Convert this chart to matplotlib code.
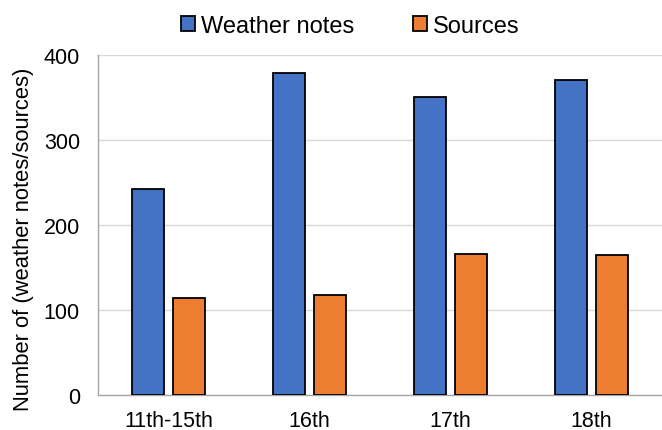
import numpy as np
import matplotlib.pyplot as plt

plt.rcParams['font.family'] = ['Liberation Sans', 'DejaVu Sans']

categories = ['11th-15th', '16th', '17th', '18th']
weather_notes = [243, 379, 351, 371]
sources = [114, 118, 166, 165]

blue = '#4472C4'
orange = '#ED7D31'

fig = plt.figure(figsize=(6.62, 4.31), dpi=100)
ax = fig.add_axes([0.148, 0.081, 0.852, 0.789])

x = np.arange(len(categories))
w = 0.227
ax.bar(x - 0.142, weather_notes, w, color=blue, edgecolor='black', linewidth=1.3,
       label='Weather notes', zorder=3)
ax.bar(x + 0.145, sources, w, color=orange, edgecolor='black', linewidth=1.3,
       label='Sources', zorder=3)

ax.set_xlim(-0.5, 3.5)
ax.set_ylim(0, 400)
ax.set_yticks([0, 100, 200, 300, 400])
ax.set_xticks(x)
ax.set_xticklabels(categories)
ax.grid(axis='y', color='#D9D9D9', linewidth=1, zorder=0)
ax.tick_params(length=0, labelsize=15.5, colors='black')
ax.tick_params(axis='y', pad=13)
ax.tick_params(axis='x', pad=11)
for s in ['top', 'right']:
    ax.spines[s].set_visible(False)
for s in ['left', 'bottom']:
    ax.spines[s].set_color('#A6A6A6')
    ax.spines[s].set_linewidth(1)
ax.set_ylabel('Number of (weather notes/sources)', fontsize=15.8)
ax.yaxis.set_label_coords(-0.114, 0.46)

fig.legend(loc='center', bbox_to_anchor=(0.529, 0.938), ncol=2, frameon=False,
           fontsize=17, handlelength=0.6, handleheight=0.6, handletextpad=0.25,
           columnspacing=2.5)

fig.savefig('out.png', dpi=100)
